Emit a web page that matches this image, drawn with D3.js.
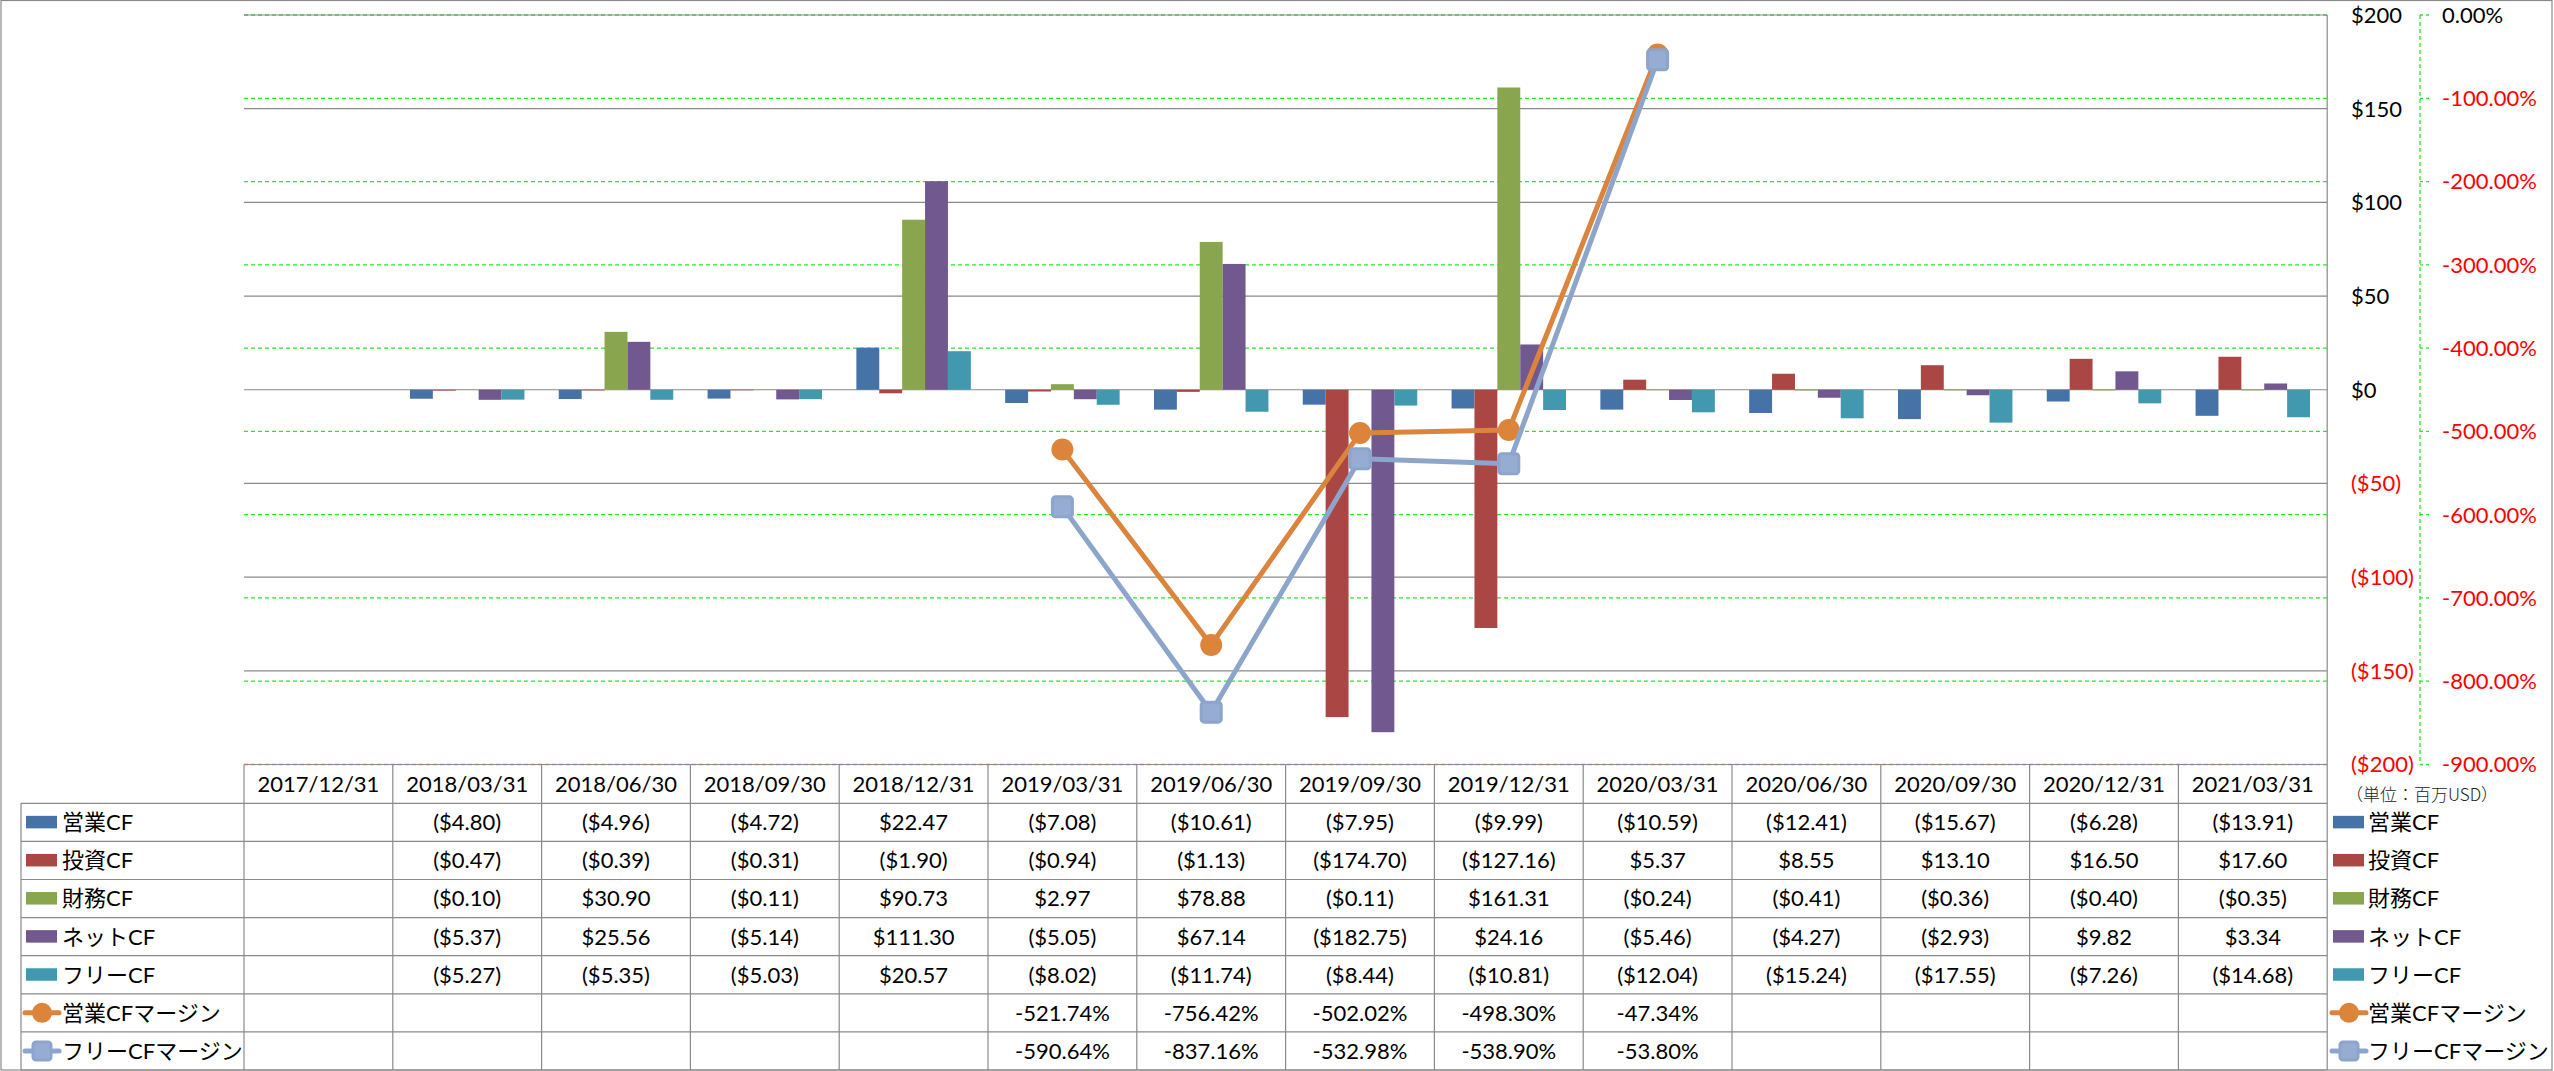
<!DOCTYPE html>
<html>
<head>
<meta charset="utf-8">
<script src="https://cdn.jsdelivr.net/npm/d3@7"></script>
<style>
  html, body { margin: 0; padding: 0; background: #fff; }
  svg { display: block; font-family: Lato, "Noto Sans CJK JP", sans-serif; }
</style>
</head>
<body>
<div id="chart"></div>
<script>
// quarterly cash flow (USD mn) + margins
const categories = ['2017/12/31','2018/03/31','2018/06/30','2018/09/30','2018/12/31','2019/03/31','2019/06/30',
  '2019/09/30','2019/12/31','2020/03/31','2020/06/30','2020/09/30','2020/12/31','2021/03/31'];

const opCF   = [null, -4.80, -4.96, -4.72, 22.47, -7.08, -10.61, -7.95, -9.99, -10.59, -12.41, -15.67, -6.28, -13.91];
const invCF  = [null, -0.47, -0.39, -0.31, -1.90, -0.94, -1.13, -174.70, -127.16, 5.37, 8.55, 13.10, 16.50, 17.60];
const finCF  = [null, -0.10, 30.90, -0.11, 90.73, 2.97, 78.88, -0.11, 161.31, -0.24, -0.41, -0.36, -0.40, -0.35];
const netCF  = [null, -5.37, 25.56, -5.14, 111.30, -5.05, 67.14, -182.75, 24.16, -5.46, -4.27, -2.93, 9.82, 3.34];
const freeCF = [null, -5.27, -5.35, -5.03, 20.57, -8.02, -11.74, -8.44, -10.81, -12.04, -15.24, -17.55, -7.26, -14.68];

const opMargin   = [null, null, null, null, null, -521.74, -756.42, -502.02, -498.30, -47.34, null, null, null, null];
const freeMargin = [null, null, null, null, null, -590.64, -837.16, -532.98, -538.90, -53.80, null, null, null, null];

const barNames  = ['営業CF','投資CF','財務CF','ネットCF','フリーCF'];
const lineNames = ['営業CFマージン','フリーCFマージン'];
const leftTicks  = [200, 150, 100, 50, 0, -50, -100, -150, -200];
const rightTicks = [0, -100, -200, -300, -400, -500, -600, -700, -800, -900];
const unitLabel = '（単位：百万USD）';

(function(){
  const W = 2554, H = 1071;
  const plotL = 244, plotR = 2327.2, plotT = 15, plotB = 764.5;
  const tblLeft = 21, headBottom = 803.3, rowH = 38.1;
  const gray = '#8a8a8a';
  const barColors = ['#4572A7','#AA4643','#89A54E','#71588F','#4198AF'];
  const lineColors = ['#DB843D','#8EA5CB'];

  const barData = [opCF, invCF, finCF, netCF, freeCF];
  const lineData = [opMargin, freeMargin];

  const svg = d3.select('#chart').append('svg')
    .attr('width', W).attr('height', H);

  const x0 = d3.scaleBand().domain(categories).range([plotL, plotR]).padding(0);
  const x1 = d3.scaleBand().domain(barNames).range([0, x0.bandwidth()])
    .paddingInner(0).paddingOuter(0.75);
  const y = d3.scaleLinear().domain([-200, 200]).range([plotB, plotT]);
  const y2 = d3.scaleLinear().domain([-900, 0]).range([plotB, plotT]);

  // secondary gridlines (green dashed)
  svg.append('g').selectAll('line').data(rightTicks).join('line')
    .attr('x1', plotL).attr('x2', plotR)
    .attr('y1', d => y2(d)).attr('y2', d => y2(d))
    .attr('stroke', '#22ee22').attr('stroke-width', 1.3)
    .attr('stroke-dasharray', '4,3');

  // primary gridlines
  svg.append('g').selectAll('line').data(leftTicks).join('line')
    .attr('x1', plotL).attr('x2', plotR)
    .attr('y1', d => y(d)).attr('y2', d => y(d))
    .attr('stroke', gray).attr('stroke-width', 1.2);

  // bars
  const bars = svg.append('g');
  barData.forEach((vals, si) => {
    bars.append('g').selectAll('rect')
      .data(vals.map((v, i) => ({v, c: categories[i]})).filter(d => d.v !== null))
      .join('rect')
      .attr('x', d => x0(d.c) + x1(barNames[si]))
      .attr('width', x1.bandwidth())
      .attr('y', d => Math.min(y(d.v), y(0)))
      .attr('height', d => Math.abs(y(d.v) - y(0)))
      .attr('fill', barColors[si]);
  });

  // primary axis (right side)
  svg.append('line')
    .attr('x1', plotR).attr('x2', plotR).attr('y1', plotT).attr('y2', plotB)
    .attr('stroke', gray).attr('stroke-width', 1.2);
  const fmtUsd = v => v < 0 ? '($' + Math.abs(v) + ')' : '$' + v;
  svg.append('g').selectAll('text').data(leftTicks).join('text')
    .attr('x', 2351).attr('y', d => y(d)).attr('dy', '0.36em')
    .attr('font-size', 22)
    .attr('fill', d => d < 0 ? '#ff0000' : '#000')
    .text(fmtUsd);

  // secondary axis
  const ax2 = 2420;
  svg.append('line')
    .attr('x1', ax2).attr('x2', ax2).attr('y1', plotT).attr('y2', plotB)
    .attr('stroke', '#22ee22').attr('stroke-width', 1.3).attr('stroke-dasharray', '4,3');
  svg.append('g').selectAll('line').data(rightTicks).join('line')
    .attr('x1', ax2).attr('x2', ax2 + 9)
    .attr('y1', d => y2(d)).attr('y2', d => y2(d))
    .attr('stroke', '#22ee22').attr('stroke-width', 1.3).attr('stroke-dasharray', '3,3');
  svg.append('g').selectAll('text').data(rightTicks).join('text')
    .attr('x', 2442).attr('y', d => y2(d)).attr('dy', '0.36em')
    .attr('font-size', 22)
    .attr('fill', d => d < 0 ? '#ff0000' : '#000')
    .text(d => d.toFixed(2) + '%');

  svg.append('text')
    .attr('x', 2346).attr('y', 795).attr('dy', '0.36em')
    .attr('font-size', 17).attr('font-weight', 300)
    .attr('font-family', '"Noto Sans CJK JP", sans-serif')
    .attr('fill', '#222')
    .text(unitLabel);

  // margin lines
  const cx = c => x0(c) + x0.bandwidth() / 2;
  lineData.forEach((vals, li) => {
    const pts = vals.map((v, i) => ({v, c: categories[i]})).filter(d => d.v !== null);
    svg.append('path')
      .datum(pts)
      .attr('fill', 'none')
      .attr('stroke', lineColors[li])
      .attr('stroke-width', 5)
      .attr('stroke-linejoin', 'round')
      .attr('d', d3.line().x(d => cx(d.c)).y(d => y2(d.v)));
    const g = svg.append('g');
    if (li === 0) {
      g.selectAll('circle').data(pts).join('circle')
        .attr('cx', d => cx(d.c)).attr('cy', d => y2(d.v)).attr('r', 11)
        .attr('fill', '#DC853A');
    } else {
      g.selectAll('rect').data(pts).join('rect')
        .attr('x', d => cx(d.c) - 10).attr('y', d => y2(d.v) - 10)
        .attr('width', 20).attr('height', 20).attr('rx', 3)
        .attr('fill', '#97ACD2').attr('stroke', '#8DA4CB').attr('stroke-width', 3);
    }
  });

  // data table
  const tbl = svg.append('g');
  const rowY = i => headBottom + i * rowH;
  const nRows = 7;
  // header top line
  tbl.append('line').attr('x1', plotL).attr('x2', plotR).attr('y1', plotB).attr('y2', plotB)
    .attr('stroke', gray).attr('stroke-width', 1.2);
  // row lines
  d3.range(nRows + 1).forEach(i => {
    tbl.append('line').attr('x1', tblLeft).attr('x2', plotR).attr('y1', rowY(i)).attr('y2', rowY(i))
      .attr('stroke', gray).attr('stroke-width', 1.2);
  });
  // vertical lines
  tbl.append('line').attr('x1', tblLeft).attr('x2', tblLeft).attr('y1', headBottom).attr('y2', rowY(nRows))
    .attr('stroke', gray).attr('stroke-width', 1.2);
  categories.forEach(c => {
    tbl.append('line').attr('x1', x0(c)).attr('x2', x0(c)).attr('y1', plotB).attr('y2', rowY(nRows))
      .attr('stroke', gray).attr('stroke-width', 1.2);
  });
  tbl.append('line').attr('x1', plotR).attr('x2', plotR).attr('y1', plotB).attr('y2', rowY(nRows))
    .attr('stroke', gray).attr('stroke-width', 1.2);

  // header
  tbl.append('g').selectAll('text').data(categories).join('text')
    .attr('x', cx).attr('y', (plotB + headBottom) / 2).attr('dy', '0.36em')
    .attr('text-anchor', 'middle').attr('font-size', 22).attr('fill', '#000')
    .text(d => d);

  const fmtCell = v => v < 0 ? '($' + Math.abs(v).toFixed(2) + ')' : '$' + v.toFixed(2);
  const allRows = barData.map(v => ({vals: v, fmt: fmtCell}))
    .concat(lineData.map(v => ({vals: v, fmt: d => d.toFixed(2) + '%'})));
  allRows.forEach((r, ri) => {
    tbl.append('g').selectAll('text')
      .data(r.vals.map((v, i) => ({v, c: categories[i]})).filter(d => d.v !== null))
      .join('text')
      .attr('x', d => cx(d.c)).attr('y', rowY(ri) + rowH / 2).attr('dy', '0.36em')
      .attr('text-anchor', 'middle').attr('font-size', 22).attr('fill', '#000')
      .text(d => r.fmt(d.v));
  });

  // legend keys (left in table, right beside it)
  function legendRow(g, ri, name, keyX, textX) {
    const cy = rowY(ri) + rowH / 2;
    if (ri < 5) {
      g.append('rect').attr('x', keyX).attr('y', cy - 6.5).attr('width', 31).attr('height', 12.5)
        .attr('fill', barColors[ri]);
    } else {
      const li = ri - 5;
      g.append('line').attr('x1', keyX - 1).attr('x2', keyX + 33).attr('y1', cy).attr('y2', cy)
        .attr('stroke', lineColors[li]).attr('stroke-width', 5).attr('stroke-linecap', 'round');
      if (li === 0) {
        g.append('circle').attr('cx', keyX + 16).attr('cy', cy).attr('r', 10).attr('fill', '#DC853A');
      } else {
        g.append('rect').attr('x', keyX + 7).attr('y', cy - 9).attr('width', 18).attr('height', 18)
          .attr('rx', 3).attr('fill', '#97ACD2').attr('stroke', '#8DA4CB').attr('stroke-width', 3);
      }
    }
    g.append('text').attr('x', textX).attr('y', cy).attr('dy', '0.36em')
      .attr('font-size', 22).attr('fill', '#000').text(name);
  }
  const names = barNames.concat(lineNames);
  const leg = svg.append('g');
  names.forEach((n, i) => legendRow(leg, i, n, 26, 62));
  names.forEach((n, i) => legendRow(leg, i, n, 2333, 2368));

  // outer border
  svg.append('rect').attr('x', 1).attr('y', 0.5).attr('width', 2551).attr('height', 1069.5)
    .attr('fill', 'none').attr('stroke', gray).attr('stroke-width', 1.2);
})();
</script>
</body>
</html>
